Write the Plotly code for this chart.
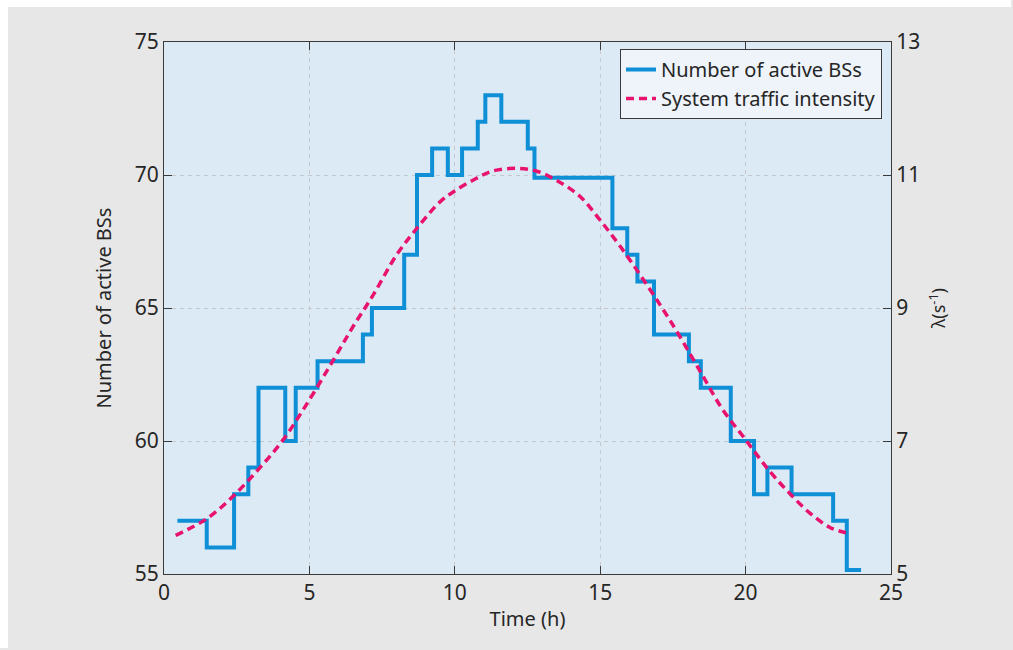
import plotly.graph_objects as go

# Number of active base stations: step start times (h) and counts
bs_time = [0.46, 1.47, 2.41, 2.90, 3.25, 4.17, 4.53, 5.28, 6.84, 7.15, 8.26, 8.70,
           9.22, 9.76, 10.25, 10.79, 11.05, 11.60, 12.51, 12.74, 15.42, 15.93, 16.28,
           16.85, 18.05, 18.46, 19.49, 20.29, 20.75, 21.58, 23.01, 23.48, 23.97]
bs_count = [57, 56, 58, 59, 62, 60, 62, 63, 64, 65, 67, 70,
            71, 70, 71, 72, 73, 72, 71, 69.9, 68, 67, 66,
            64, 63, 62, 60, 58, 59, 58, 57, 55.15, 55.15]

# System traffic intensity lambda (1/s) over the day
lam_time = [0.4, 1.5, 2.4, 3.3, 4.1, 5.0, 5.8, 6.5, 7.2, 8.0, 8.7, 9.5, 10.0, 10.7,
            11.3, 12.1, 12.8, 13.5, 14.3, 15.0, 15.7, 16.4, 17.1, 17.7, 18.5, 19.2,
            20.0, 20.8, 21.5, 22.2, 22.9, 23.45]
lam_value = [5.58, 5.84, 6.18, 6.60, 7.02, 7.62, 8.20, 8.72, 9.20, 9.80, 10.20, 10.60,
             10.76, 10.94, 11.06, 11.10, 11.06, 10.92, 10.68, 10.32, 9.92, 9.48, 9.02,
             8.60, 8.00, 7.48, 7.02, 6.56, 6.22, 5.92, 5.70, 5.62]

x_ticks = [0, 5, 10, 15, 20, 25]
y_ticks = [55, 60, 65, 70, 75]
y2_ticks = [5, 7, 9, 11, 13]

BLUE = "#0E8FD6"
MAGENTA = "#E8126F"
AXIS = "#3A3A3A"
TEXT = "#262626"
FONT = "Noto Sans"

fig = go.Figure()
fig.add_trace(go.Scatter(
    x=bs_time, y=bs_count, mode="lines", line_shape="hv",
    line=dict(color=BLUE, width=4), name="Number of active BSs"))
fig.add_trace(go.Scatter(
    x=lam_time, y=lam_value, mode="lines", line_shape="spline", yaxis="y2",
    line=dict(color=MAGENTA, width=3.5, dash="8px,5px"),
    name="System traffic intensity"))

# figure geometry (pixels)
W, H = 1013, 650
L, R, T, B = 164, 122, 42, 76
pw, ph = W - L - R, H - T - B

# thin white edge along the top and left of the gray panel
for x0, y0, w, h in [(0, 0, 8, H - 2), (0, 0, W - 2, 7)]:
    fig.add_annotation(xref="paper", yref="paper", text="",
                       x=(x0 - L) / pw, y=(H - B - y0) / ph,
                       xanchor="left", yanchor="top", showarrow=False,
                       width=w, height=h, bgcolor="white", borderpad=0, borderwidth=0)

axis_common = dict(showline=True, linecolor=AXIS, linewidth=1.2,
                   ticks="inside", ticklen=8, tickcolor=AXIS, tickwidth=1.2,
                   tickfont=dict(family=FONT, size=21, color=TEXT),
                   zeroline=False)

fig.update_layout(
    width=W, height=H,
    margin=dict(l=L, r=R, t=T, b=B, pad=0),
    paper_bgcolor="#E7E7E7",
    plot_bgcolor="#DCEAF6",
    font=dict(family=FONT, color=TEXT),
    showlegend=True,
    legend=dict(x=(882 - L) / pw, y=(H - B - 49) / ph, xanchor="right", yanchor="top",
                bgcolor="#EEF4FA", bordercolor=AXIS, borderwidth=1,
                font=dict(family=FONT, size=20, color=TEXT),
                tracegroupgap=0, itemwidth=30),
    xaxis=dict(range=[0, 25], tickvals=x_ticks, mirror="ticks",
               showgrid=True, gridcolor="#C4C8CC", griddash="4px,4px", gridwidth=1,
               title=dict(text="Time (h)", font=dict(family=FONT, size=20, color=TEXT),
                          standoff=6),
               **axis_common),
    yaxis=dict(range=[55, 75], tickvals=y_ticks, mirror=True,
               showgrid=True, gridcolor="#C4C8CC", griddash="4px,4px", gridwidth=1,
               title=dict(text="Number of active BSs",
                          font=dict(family=FONT, size=20, color=TEXT), standoff=17),
               **axis_common),
    yaxis2=dict(range=[5, 13], tickvals=y2_ticks, overlaying="y", side="right",
                showgrid=False,
                title=dict(text="λ(s<sup>-1</sup>)",
                           font=dict(family=FONT, size=18, color=TEXT), standoff=13),
                **axis_common),
)

fig.write_html("out.html")
